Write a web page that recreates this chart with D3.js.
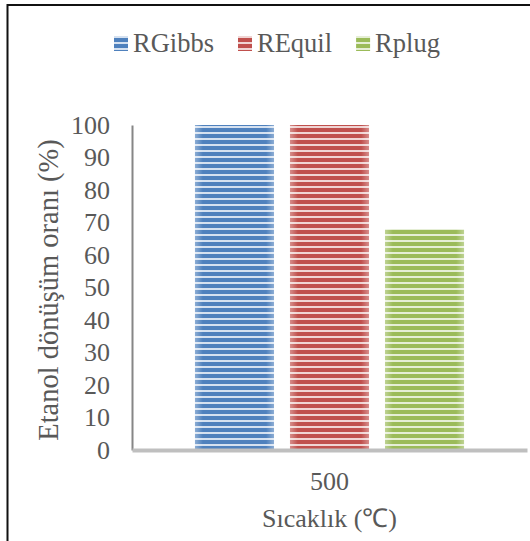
<!DOCTYPE html>
<html>
<head>
<meta charset="utf-8">
<script src="https://cdn.jsdelivr.net/npm/d3@7"></script>
<style>
  html, body { margin: 0; padding: 0; background: #fff; }
  svg { display: block; }
  text { font-family: "Liberation Serif", "Times New Roman", serif; fill: #595959; }
</style>
</head>
<body>
<svg id="chart" width="530" height="541"></svg>
<script>
// Ethanol conversion at 500 °C for three reactor models
const categories = ["500"];
const seriesNames = ["RGibbs", "REquil", "Rplug"];
const seriesColors = ["#4f81bd", "#c0504d", "#9bbb59"];
const stripeColors = ["#e4ebf5", "#f5e3e2", "#eef4e3"];
const conversion = [100, 100, 68];          // % at 500 °C
const yTicks = [0, 10, 20, 30, 40, 50, 60, 70, 80, 90, 100];

const svg = d3.select("#chart");
const defs = svg.append("defs");

// Horizontal striped fill for each series
seriesNames.forEach((name, i) => {
  const p = defs.append("pattern")
    .attr("id", "stripe-" + i)
    .attr("patternUnits", "userSpaceOnUse")
    .attr("width", 10).attr("height", 6);
  p.append("rect").attr("width", 10).attr("height", 6).attr("fill", seriesColors[i]);
  p.append("rect").attr("y", 0).attr("width", 10).attr("height", 2)
    .attr("fill", stripeColors[i]).attr("opacity", 0.9);
});
// Soft light edges on the left and right side of each bar
const edge = defs.append("linearGradient").attr("id", "edge")
  .attr("x1", "0").attr("x2", "1").attr("y1", "0").attr("y2", "0");
edge.append("stop").attr("offset", "0").attr("stop-color", "#fff").attr("stop-opacity", 0.35);
edge.append("stop").attr("offset", "0.1").attr("stop-color", "#fff").attr("stop-opacity", 0);
edge.append("stop").attr("offset", "0.9").attr("stop-color", "#fff").attr("stop-opacity", 0);
edge.append("stop").attr("offset", "1").attr("stop-color", "#fff").attr("stop-opacity", 0.35);

// Outer frame
svg.append("rect")
  .attr("x", 7.5).attr("y", 5).attr("width", 700).attr("height", 700)
  .attr("fill", "none").attr("stroke", "#111").attr("stroke-width", 2);

const plot = { left: 132, right: 527, top: 125, bottom: 450 };

const x0 = d3.scaleBand().domain(categories)
  .range([plot.left, plot.right]).paddingInner(0).paddingOuter(0.234);
const x1 = d3.scaleBand().domain(seriesNames)
  .range([0, x0.bandwidth()]).paddingInner(0.168).paddingOuter(0);
const y = d3.scaleLinear().domain([0, 100]).range([plot.bottom, plot.top]);

// Bars
const groups = svg.append("g").selectAll("g").data(categories).join("g")
  .attr("transform", d => `translate(${x0(d)},0)`);
seriesNames.forEach((name, i) => {
  groups.append("rect")
    .attr("x", x1(name)).attr("y", y(conversion[i]))
    .attr("width", x1.bandwidth()).attr("height", y(0) - y(conversion[i]))
    .attr("fill", `url(#stripe-${i})`);
  groups.append("rect")
    .attr("x", x1(name)).attr("y", y(conversion[i]))
    .attr("width", x1.bandwidth()).attr("height", y(0) - y(conversion[i]))
    .attr("fill", "url(#edge)");
});

// Y axis
const yAxis = svg.append("g")
  .attr("transform", `translate(${plot.left},0)`)
  .call(d3.axisLeft(y).tickValues(yTicks).tickSize(0).tickPadding(22));
yAxis.select(".domain").attr("stroke", "#868686").attr("stroke-width", 2);
yAxis.selectAll("text")
  .style("font-family", "'Liberation Serif', 'Times New Roman', serif")
  .style("font-size", "26px").style("fill", "#595959");

// X axis
const xAxis = svg.append("g")
  .attr("transform", `translate(0,${plot.bottom})`)
  .call(d3.axisBottom(x0).tickSize(0).tickPadding(22));
xAxis.select(".domain").attr("stroke", "#bfbfbf").attr("stroke-width", 4);
xAxis.selectAll("text")
  .style("font-family", "'Liberation Serif', 'Times New Roman', serif")
  .style("font-size", "26px").style("fill", "#595959");

// Axis titles
svg.append("text")
  .attr("x", (plot.left + plot.right) / 2).attr("y", 527)
  .attr("text-anchor", "middle").style("font-size", "26px")
  .text("Sıcaklık (℃)");
svg.append("text")
  .attr("transform", "translate(58,290) rotate(-90)")
  .attr("text-anchor", "middle").style("font-size", "28.5px")
  .text("Etanol dönüşüm oranı (%)");

// Legend
const legend = svg.append("g");
let lx = 114;
seriesNames.forEach((name, i) => {
  legend.append("rect").attr("x", lx).attr("y", 36).attr("width", 14).attr("height", 15)
    .attr("fill", `url(#stripe-${i})`);
  const t = legend.append("text").attr("x", lx + 19).attr("y", 52)
    .style("font-size", "26.5px").text(name);
  lx += 19 + t.node().getComputedTextLength() + 24;
});
</script>
</body>
</html>
